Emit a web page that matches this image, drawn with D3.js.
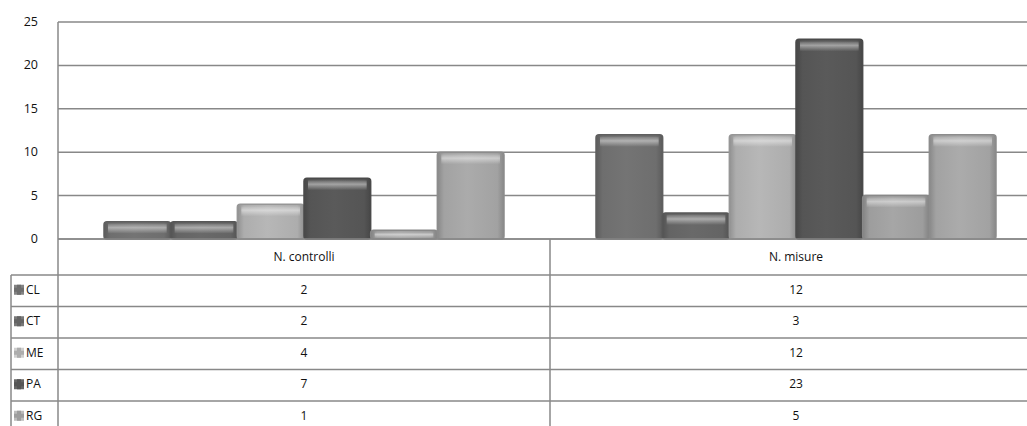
<!DOCTYPE html>
<html>
<head>
<meta charset="utf-8">
<script src="https://cdn.jsdelivr.net/npm/d3@7"></script>
<style>
	body { margin: 0; background: #fff; }
	svg { display: block; font-family: "Open Sans", "Liberation Sans", sans-serif; }
</style>
</head>
<body>
<div id="vis"></div>
<script>
const width = 1027;
const height = 426;

const categories = ["N. controlli", "N. misure"];
const series = ["CL", "CT", "ME", "PA", "RG", "SR"];
const controlli = [2, 2, 4, 7, 1, 10];
const misure = [12, 3, 12, 23, 5, 12];
const yTicks = [0, 5, 10, 15, 20, 25];
const seriesColors = ["#6e6e6e", "#646464", "#adadad", "#555555", "#9d9d9d", "#a2a2a2"];

const values = [controlli, misure];

const plotLeft = 58;
const catWidth = 492;
const tableLeft = 11;
const rowTop = 275;
const rowH = 31.5;
const gridColor = "#888";

const svg = d3.select("#vis")
	.append("svg")
	.attr("width", width)
	.attr("height", height);

const defs = svg.append("defs");

// gradient for each bar colour: darker edges, lighter middle
seriesColors.forEach((c, i) => {
	const g = defs.append("linearGradient")
		.attr("id", `grad-${i}`)
		.attr("x1", 0).attr("x2", 1).attr("y1", 0).attr("y2", 0);
	const base = d3.color(c);
	g.append("stop").attr("offset", "0%").attr("stop-color", base.darker(0.5));
	g.append("stop").attr("offset", "10%").attr("stop-color", base);
	g.append("stop").attr("offset", "45%").attr("stop-color", base.brighter(0.15));
	g.append("stop").attr("offset", "90%").attr("stop-color", base);
	g.append("stop").attr("offset", "100%").attr("stop-color", base.darker(0.5));
});

const hl = defs.append("linearGradient")
	.attr("id", "hl")
	.attr("x1", 0).attr("x2", 0).attr("y1", 0).attr("y2", 1);
hl.append("stop").attr("offset", "0%").attr("stop-color", "#fff").attr("stop-opacity", 0.1);
hl.append("stop").attr("offset", "40%").attr("stop-color", "#fff").attr("stop-opacity", 0.45);
hl.append("stop").attr("offset", "100%").attr("stop-color", "#fff").attr("stop-opacity", 0);

const x = d3.scaleBand()
	.domain(categories)
	.range([plotLeft, plotLeft + catWidth * categories.length]);

const x1 = d3.scaleBand()
	.domain(series)
	.range([46, 446]);

const y = d3.scaleLinear()
	.domain([0, 25])
	.range([239, 22]);

// gridlines
svg.append("g")
	.selectAll("line")
	.data(yTicks)
	.enter()
	.append("line")
		.attr("x1", plotLeft)
		.attr("x2", width)
		.attr("y1", d => y(d))
		.attr("y2", d => y(d))
		.attr("stroke", gridColor)
		.attr("stroke-width", 1.5);

// y tick labels
svg.append("g")
	.selectAll("text")
	.data(yTicks)
	.enter()
	.append("text")
		.attr("x", 38)
		.attr("y", d => y(d) + 4)
		.attr("text-anchor", "end")
		.attr("font-size", 12.5)
		.attr("fill", "#111")
		.text(d => d);

// bars
const groups = svg.append("g")
	.selectAll("g")
	.data(categories)
	.enter()
	.append("g")
		.attr("transform", d => `translate(${x(d)},0)`);

groups.each(function (cat, ci) {
	const g = d3.select(this);
	const rows = series.map((s, i) => ({s, i, v: values[ci][i]}));

	g.selectAll("rect.bar")
		.data(rows)
		.enter()
		.append("rect")
			.classed("bar", true)
			.attr("x", d => x1(d.s))
			.attr("y", d => y(d.v))
			.attr("width", x1.bandwidth())
			.attr("height", d => y(0) - y(d.v))
			.attr("rx", 3)
			.attr("fill", d => `url(#grad-${d.i})`)
			.attr("stroke", d => d3.color(seriesColors[d.i]).darker(0.4))
			.attr("stroke-width", 1.5);

	g.selectAll("rect.hl")
		.data(rows)
		.enter()
		.append("rect")
			.classed("hl", true)
			.attr("x", d => x1(d.s) + 4)
			.attr("y", d => y(d.v) + 2)
			.attr("width", x1.bandwidth() - 8)
			.attr("height", d => Math.min(10, y(0) - y(d.v) - 3))
			.attr("fill", "url(#hl)");
});

// axis line at 0 and plot left border
svg.append("line")
	.attr("x1", plotLeft).attr("x2", width)
	.attr("y1", y(0)).attr("y2", y(0))
	.attr("stroke", gridColor).attr("stroke-width", 1.5);

svg.append("line")
	.attr("x1", plotLeft).attr("x2", plotLeft)
	.attr("y1", y(25)).attr("y2", height)
	.attr("stroke", gridColor).attr("stroke-width", 1.5);

// data table
const table = svg.append("g");

table.selectAll("line.cat")
	.data(categories.slice(1))
	.enter()
	.append("line")
		.attr("x1", d => x(d)).attr("x2", d => x(d))
		.attr("y1", y(0)).attr("y2", height)
		.attr("stroke", gridColor).attr("stroke-width", 1.5);

table.selectAll("text.cat")
	.data(categories)
	.enter()
	.append("text")
		.attr("x", d => x(d) + x.bandwidth() / 2)
		.attr("y", 261)
		.attr("text-anchor", "middle")
		.attr("font-size", 12)
		.attr("fill", "#111")
		.text(d => d);

// only the rows whose text fits in the frame are drawn (table is cut off at the bottom)
const visibleRows = series.filter((s, i) => rowTop + i * rowH + rowH / 2 + 6 <= height);

// row separators
const rowIdx = d3.range(visibleRows.length + 1);
table.selectAll("line.row")
	.data(rowIdx)
	.enter()
	.append("line")
		.attr("x1", tableLeft).attr("x2", width)
		.attr("y1", d => rowTop + d * rowH)
		.attr("y2", d => rowTop + d * rowH)
		.attr("stroke", gridColor).attr("stroke-width", 1.5);

table.append("line")
	.attr("x1", tableLeft).attr("x2", tableLeft)
	.attr("y1", rowTop).attr("y2", height)
	.attr("stroke", gridColor).attr("stroke-width", 1.5);

const rowsG = table.selectAll("g.row")
	.data(visibleRows)
	.enter()
	.append("g")
		.attr("transform", (d, i) => `translate(0,${rowTop + i * rowH})`);

// legend keys
rowsG.append("rect")
	.attr("x", 14).attr("y", rowH / 2 - 6)
	.attr("width", 10).attr("height", 10)
	.attr("fill", (d, i) => d3.color(seriesColors[i]).brighter(0.5));
rowsG.append("rect")
	.attr("x", 17).attr("y", rowH / 2 - 6)
	.attr("width", 4).attr("height", 10)
	.attr("fill", (d, i) => seriesColors[i]);
rowsG.append("rect")
	.attr("x", 14).attr("y", rowH / 2 - 3)
	.attr("width", 10).attr("height", 4)
	.attr("fill", (d, i) => seriesColors[i]);

rowsG.append("text")
	.attr("x", 26)
	.attr("y", rowH / 2 + 3)
	.attr("font-size", 12)
	.attr("fill", "#111")
	.text(d => d);

rowsG.each(function (s, si) {
	d3.select(this)
		.selectAll("text.val")
		.data(categories)
		.enter()
		.append("text")
			.attr("x", d => x(d) + x.bandwidth() / 2)
			.attr("y", rowH / 2 + 3)
			.attr("text-anchor", "middle")
			.attr("font-size", 12)
			.attr("fill", "#111")
			.text((d, ci) => values[ci][si]);
});
</script>
</body>
</html>
